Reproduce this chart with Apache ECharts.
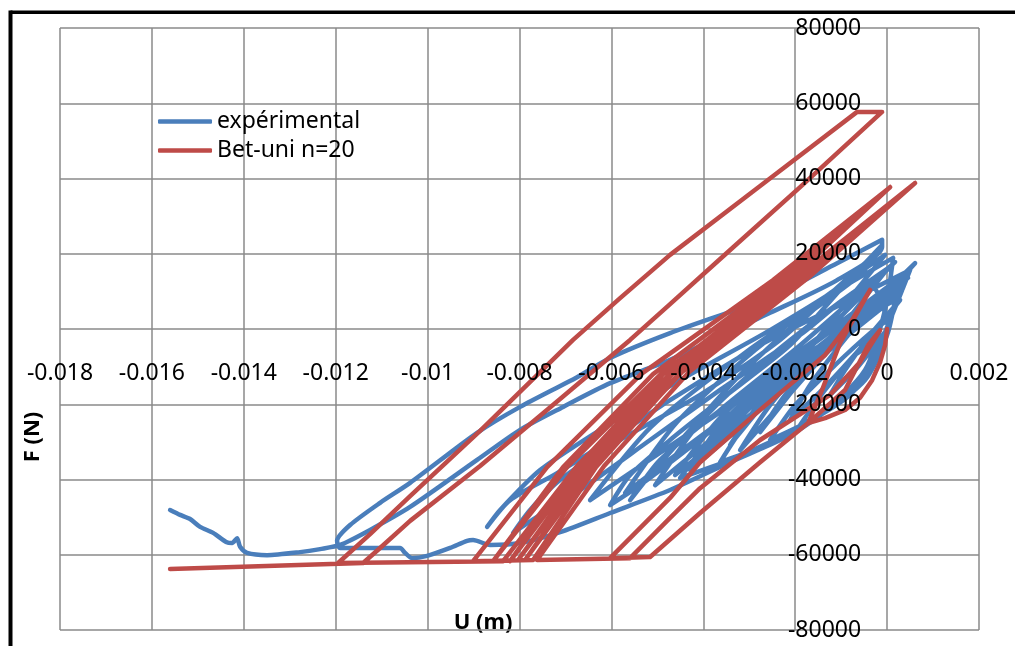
<!DOCTYPE html>
<html>
<head>
<meta charset="utf-8">
<script src="https://cdn.jsdelivr.net/npm/echarts@6/dist/echarts.min.js"></script>
<style>
  html, body { margin: 0; padding: 0; background: #ffffff; }
  #chart { width: 1015px; height: 646px; }
</style>
</head>
<body>
<div id="chart"></div>
<script>
// Axis ranges (U in metres, F in newtons)
const uRange = { min: -0.018, max: 0.002, step: 0.002 };
const fRange = { min: -80000, max: 80000, step: 20000 };

const seriesNames = ['expérimental', 'Bet-uni n=20'];
const axisTitles = { x: 'U (m)', y: 'F (N)' };

// Measured response: [U, F]
const experimental = [
  [0, 0], [-0.000261, -4300], [-0.000696, -10900], [-0.00124, -17500],
  [-0.000914, -10900], [-0.00037, -1600], [0.000283, 7700],
  [-0.000152, 1100], [-0.000805, -8200], [-0.001458, -16700], [-0.002111, -24200],
  [-0.001676, -14900], [-0.001023, -4300], [-0.00037, 5100], [0.000283, 13600], [0.000609, 17500],
  [0.000174, 11700], [-0.000588, 2400], [-0.001458, -8200], [-0.002329, -20200], [-0.003199, -32200],
  [-0.002546, -20200], [-0.001676, -8200], [-0.000588, 5100], [0.000392, 14400],
  [-0.00037, 5100], [-0.001458, -6900], [-0.002764, -21500], [-0.004287, -37500],
  [-0.003634, -25500], [-0.002329, -10900], [-0.000805, 3700], [0.000501, 15700],
  [-0.000152, 7700], [-0.001458, -4300], [-0.002982, -18900], [-0.004505, -33500], [-0.005375, -41500], [-0.006028, -46800],
  [-0.005593, -38800], [-0.004723, -29500], [-0.003634, -18900], [-0.002111, -4300], [-0.001023, 10400], [-0.000109, 22300],
  [-0.000588, 14400], [-0.001893, 2400], [-0.003199, -12200], [-0.004287, -26800], [-0.005158, -38800], [-0.005593, -45500],
  [-0.00494, -34800], [-0.003634, -21500], [-0.001893, -4300], [-0.000588, 9600], [0.000174, 17800],
  [-0.000675, 7400], [-0.001937, -8200], [-0.003221, -23900], [-0.00407, -34300],
  [-0.003177, -20200], [-0.001828, -6100], [-0.000501, 5600], [0.000392, 12500],
  [-0.000696, 1600], [-0.002329, -14600], [-0.003961, -30600], [-0.005049, -41500],
  [-0.004026, -24200], [-0.002503, -6900], [-0.001001, 7400], [0.000022, 16200],
  [-0.000544, 7400], [-0.001371, -5600], [-0.002198, -18600], [-0.002764, -27400],
  [-0.002155, -16500], [-0.001262, -5600], [-0.00037, 3500], [0.000239, 9000],
  [-0.00074, -500], [-0.002176, -14900], [-0.003634, -29200], [-0.004614, -38800],
  [-0.003591, -23100], [-0.002067, -7400], [-0.000566, 5600], [0.000457, 13600],
  [-0.000783, 2100], [-0.002612, -15200], [-0.004461, -32200], [-0.005702, -43600],
  [-0.00457, -24700], [-0.002873, -5600], [-0.001175, 10100], [-0.000044, 19700],
  [-0.000718, 9600], [-0.001719, -5600], [-0.002742, -20700], [-0.003417, -30800],
  [-0.002677, -18300], [-0.001545, -6100], [-0.000413, 4300], [0.000326, 10400],
  [-0.001023, -800], [-0.003069, -17500], [-0.005114, -34300], [-0.006464, -45500],
  [-0.005136, -26000], [-0.003156, -6900], [-0.001197, 9300], [0.000131, 18900],
  [-0.000044, 5100], [-0.000479, -10900], [-0.001458, -22900], [-0.002764, -31400], [-0.003634, -35400],
  [-0.00309, -25500], [-0.002111, -13600], [-0.000914, -300], [0.000174, 7700],
  [0, -1600], [-0.000479, -13600], [-0.001458, -22900], [-0.002546, -29500],
  [-0.002002, -20200], [-0.001132, -9600], [-0.00037, -1100], [0.000065, 2900],
  [-0.000152, -5600], [-0.000805, -17500], [-0.002111, -27400], [-0.003417, -34800], [-0.004505, -39600],
  [-0.003852, -29500], [-0.002764, -17500], [-0.001458, -4300], [-0.00037, 5600], [0.000283, 10400],
  [0.000065, 2400], [-0.00037, -10900], [-0.001132, -20200], [-0.001893, -25500],
  [-0.001349, -16200], [-0.000696, -6900], [0.000022, -300],
  [-0.00037, 11700], [-0.001893, -1600], [-0.003634, -16200], [-0.005158, -29500], [-0.006681, -42800], [-0.007552, -49400], [-0.008139, -54200],
  [-0.007769, -48100], [-0.007117, -40100], [-0.005811, -29500], [-0.00407, -17500], [-0.002329, -2900], [-0.001023, 11700], [-0.000152, 21000],
  [-0.000805, 13000], [-0.002546, -300], [-0.004505, -13600], [-0.006246, -26800], [-0.007552, -37500], [-0.008422, -48100], [-0.008705, -52600],
  [-0.008205, -45500], [-0.007182, -38300], [-0.006028, -29500], [-0.004723, -18900], [-0.002764, -4300], [-0.000805, 7700], [0.000501, 15700],
  [0.000065, 2400], [-0.00037, -9600], [-0.001023, -18900], [-0.002111, -28200], [-0.003417, -35400], [-0.004723, -42800],
  [-0.006028, -48900], [-0.007117, -54000], [-0.007987, -56900], [-0.00864, -57400], [-0.00901, -56100],
  [-0.00914, -56300], [-0.00951, -58200], [-0.010011, -60300], [-0.010337, -60900], [-0.01049, -59500], [-0.010599, -58200],
  [-0.011251, -58200], [-0.011904, -58200], [-0.01197, -56300],
  [-0.011687, -52100], [-0.011034, -46200], [-0.010381, -40900], [-0.008923, -27600], [-0.007987, -20700], [-0.006747, -12800],
  [-0.006028, -7700], [-0.004723, -1100], [-0.002546, 8500], [-0.001088, 17500], [-0.000109, 23700],
  [-0.000109, 21800], [-0.001088, 13000], [-0.002546, 4300], [-0.004723, -8200], [-0.006028, -14400], [-0.007051, -20700],
  [-0.007987, -26800], [-0.008923, -34800], [-0.010381, -47300], [-0.011251, -53400], [-0.011904, -57400],
  [-0.01234, -58500], [-0.012775, -59300], [-0.013493, -60100], [-0.013928, -59500], [-0.014081, -57900], [-0.014146, -55600],
  [-0.014255, -56900], [-0.014385, -56600], [-0.014668, -54200], [-0.014951, -52600], [-0.015169, -50500], [-0.015386, -49400],
  [-0.015604, -48100]
];

// Model response (uniaxial concrete law, n = 20): [U, F]
const betUni = [
  [0, 0], [-0.000044, -4300], [-0.000152, -8800], [-0.000326, -13600], [-0.000588, -18300], [-0.000914, -21500],
  [-0.001349, -23700], [-0.001719, -25000],
  [-0.001415, -16200], [-0.001023, -3700], [-0.00037, 10400],
  [-0.000762, 2400], [-0.001349, -6900], [-0.002764, -21500], [-0.00407, -35400], [-0.004723, -44900], [-0.006028, -60900],
  [-0.005158, -60600],
  [-0.00407, -48900], [-0.002764, -35400], [-0.001719, -25000], [-0.000914, -16200], [-0.000413, -4300], [-0.000152, -300],
  [-0.000588, -8800], [-0.00124, -17500], [-0.002764, -29500], [-0.00407, -42300], [-0.004723, -50200], [-0.005593, -60900],
  [-0.007617, -61400],
  [-0.006159, -36400], [-0.004309, -11400], [-0.001698, 13800], [0.000609, 38800],
  [-0.001763, 13800], [-0.004461, -11400], [-0.006377, -36400], [-0.007878, -61400],
  [-0.006464, -36700], [-0.004679, -12000], [-0.002155, 13000], [0.000065, 37700],
  [-0.002242, 13000], [-0.004875, -12000], [-0.006747, -36700], [-0.008205, -61700],
  [-0.006638, -36400], [-0.004657, -11400], [-0.00185, 13800], [0.000609, 38800],
  [-0.001959, 13800], [-0.004875, -11400], [-0.006942, -36400], [-0.008575, -61700],
  [-0.007051, -36700], [-0.005093, -12000], [-0.00235, 13000], [0.000065, 37700],
  [-0.002481, 13000], [-0.005354, -12000], [-0.007399, -36700], [-0.00901, -61700],
  [-0.007704, -61400],
  [-0.006333, -36700], [-0.004527, -12000], [-0.002111, 13000], [0.000065, 37700],
  [-0.002198, 13000], [-0.004701, -12000], [-0.006572, -36700], [-0.008031, -61400],
  [-0.006485, -36400], [-0.004483, -11400], [-0.001806, 13800], [0.000609, 38800],
  [-0.001893, 13800], [-0.004679, -11400], [-0.006747, -36400], [-0.008357, -61700],
  [-0.011948, -62200],
  [-0.011251, -54500], [-0.010381, -44400], [-0.008858, -27100], [-0.006834, -2900], [-0.005811, 8200],
  [-0.004723, 19700], [-0.002764, 38000], [-0.000653, 57700], [-0.000109, 57700],
  [-0.001893, 37700], [-0.003634, 18600], [-0.004723, 6600], [-0.005593, -2900], [-0.007117, -18600],
  [-0.008858, -36400], [-0.010381, -51000], [-0.011034, -58200], [-0.011404, -62200],
  [-0.015604, -63800]
];

const FONT = '"Noto Sans", "Open Sans", sans-serif';
const GRID_COLOR = '#8a8a8a';
const LABEL_SIZE = 23;

// Plot area in pixels; the tick labels sit along U = 0 and F = 0 inside it.
const plot = { left: 60, top: 28, width: 919, height: 602 };
const yZeroPx = plot.top + plot.height * (fRange.max - 0) / (fRange.max - fRange.min);
const xZeroPx = plot.left + plot.width * (0 - uRange.min) / (uRange.max - uRange.min);

function fmtU(v) { return String(Number(v.toFixed(3))); }
function fmtF(v) { return String(Math.round(v)); }

const scaleX = { type: 'value', min: uRange.min, max: uRange.max, interval: uRange.step };
const scaleY = { type: 'value', min: fRange.min, max: fRange.max, interval: fRange.step };

const chart = echarts.init(document.getElementById('chart'), null, { renderer: 'canvas' });

chart.setOption({
  animation: false,
  backgroundColor: '#ffffff',
  grid: {
    left: plot.left, top: plot.top, width: plot.width, height: plot.height,
    containLabel: false, outerBoundsMode: 'none'
  },
  legend: {
    orient: 'vertical',
    left: 158,
    top: 110,
    padding: 0,
    icon: 'roundRect',
    itemWidth: 54,
    itemHeight: 4.5,
    itemGap: 6,
    textStyle: { fontFamily: FONT, fontSize: LABEL_SIZE, color: '#000', lineHeight: 23 },
    data: seriesNames
  },
  xAxis: [
    // gridlines, drawn beneath the curves
    Object.assign({}, scaleX, {
      position: 'bottom',
      axisLine: { show: false, onZero: false },
      axisTick: { show: false },
      axisLabel: { show: false },
      splitLine: { show: true, lineStyle: { color: GRID_COLOR, width: 1.5 } },
      z: 0
    }),
    // tick labels along F = 0, drawn above the curves
    Object.assign({}, scaleX, {
      position: 'top',
      offset: -(yZeroPx - plot.top),
      axisLine: { show: false, onZero: false },
      axisTick: { show: false },
      axisLabel: { inside: true, margin: 33, fontFamily: FONT, fontSize: LABEL_SIZE, color: '#000', formatter: fmtU },
      splitLine: { show: false },
      z: 10
    })
  ],
  yAxis: [
    Object.assign({}, scaleY, {
      position: 'left',
      axisLine: { show: false, onZero: false },
      axisTick: { show: false },
      axisLabel: { show: false },
      splitLine: { show: true, lineStyle: { color: GRID_COLOR, width: 1.5 } },
      z: 0
    }),
    // tick labels along U = 0
    Object.assign({}, scaleY, {
      position: 'right',
      offset: -(plot.left + plot.width - xZeroPx),
      axisLine: { show: false, onZero: false },
      axisTick: { show: false },
      axisLabel: { inside: true, margin: 26, fontFamily: FONT, fontSize: LABEL_SIZE, color: '#000', formatter: fmtF },
      splitLine: { show: false },
      z: 10
    })
  ],
  series: [
    {
      name: seriesNames[0],
      type: 'line',
      xAxisIndex: 0,
      yAxisIndex: 0,
      data: experimental,
      symbol: 'none',
      smooth: 0.25,
      lineStyle: { color: '#4a7ebb', width: 4.5, cap: 'round', join: 'round' },
      itemStyle: { color: '#4a7ebb' },
      z: 2
    },
    {
      name: seriesNames[1],
      type: 'line',
      xAxisIndex: 0,
      yAxisIndex: 0,
      data: betUni,
      symbol: 'none',
      smooth: false,
      lineStyle: { color: '#be4b48', width: 4.5, cap: 'round', join: 'round' },
      itemStyle: { color: '#be4b48' },
      z: 3
    }
  ],
  graphic: [
    { type: 'line', shape: { x1: 10.5, y1: 12.3, x2: 1015, y2: 12.3 }, style: { stroke: '#000', lineWidth: 3.5 }, silent: true },
    { type: 'line', shape: { x1: 10.5, y1: 10.5, x2: 10.5, y2: 646 }, style: { stroke: '#000', lineWidth: 4 }, silent: true },
    {
      type: 'text', x: 33, y: 437, rotation: Math.PI / 2,
      style: { text: axisTitles.y, font: 'bold 22px ' + FONT, fill: '#000', textAlign: 'center', textVerticalAlign: 'middle' }
    },
    {
      type: 'text', x: 483, y: 623,
      style: { text: axisTitles.x, font: 'bold 22px ' + FONT, fill: '#000', textAlign: 'center', textVerticalAlign: 'middle' }
    }
  ]
});
</script>
</body>
</html>
